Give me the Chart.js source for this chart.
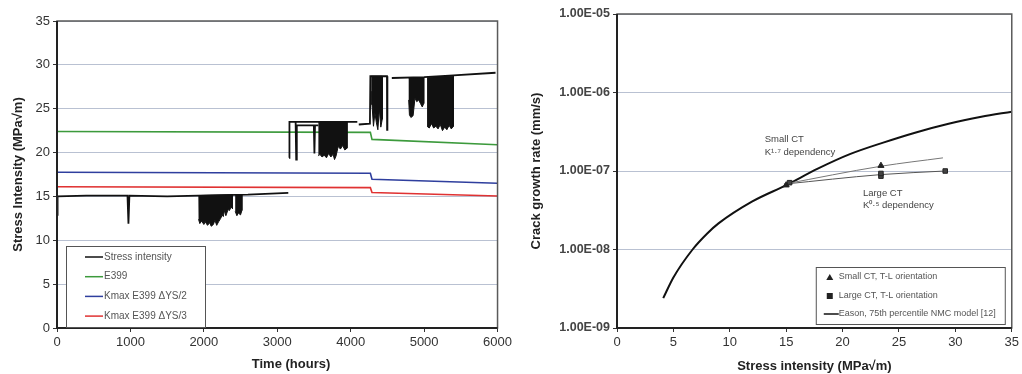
<!DOCTYPE html>
<html>
<head>
<meta charset="utf-8">
<script src="https://cdn.jsdelivr.net/npm/chart.js@4.4.1/dist/chart.umd.min.js"></script>
<style>
html, body { margin: 0; padding: 0; background: #fff; }
#wrap { position: relative; width: 1022px; height: 374px; overflow: hidden; }
#leftChart { position: absolute; left: 0; top: 0; }
#rightChart { position: absolute; left: 515px; top: 0; }
</style>
</head>
<body>
<div id="wrap">
  <canvas id="leftChart" width="515" height="374"></canvas>
  <canvas id="rightChart" width="507" height="374"></canvas>
</div>
<script>
// ---- left panel: time (hours) vs stress intensity (MPa√m) ----
// null K breaks the trace
const stressTrace = [
  [0, 12.9], [8, 15.0], [400, 15.1], [960, 15.1], [973, 11.9], [986, 15.1], [1500, 15.0],
  [1925, 15.1], [2600, 15.2], [3150, 15.4], [3152, null],
  [3160, 19.4], [3166, 23.5], [4090, 23.5], [4095, null],
  [4110, 23.2], [4262, 23.3], [4268, 28.7], [4494, 28.7], [4496, 22.6], [4500, 28.7], [4505, null],
  [4560, 28.5], [5000, 28.6], [5400, 28.8], [5973, 29.1], [5980, null],
  [3250, 23.5], [3258, 19.2], [3266, 23.1], [3498, 23.1], [3506, 19.9], [3514, 23.1], [3560, 23.1]
];
// dense unloading periods, drawn as outlines (top edge then jagged bottom)
const dipBlock1 = [[1925, 15.1], [2390, 15.2], [2390, 13.6], [2370, 13.8], [2350, 13.4], [2330, 13.5],
  [2300, 12.8], [2280, 13.4], [2265, 12.7], [2250, 12.9], [2230, 12.5], [2200, 12.1], [2175, 11.7],
  [2150, 12.3], [2130, 11.8], [2100, 11.6], [2080, 12.0], [2050, 11.7], [2020, 12.1], [2000, 11.8],
  [1970, 12.2], [1945, 11.9], [1928, 12.4]];
const dipBlock2 = [[2427, 15.2], [2518, 15.2], [2518, 13.4], [2500, 12.9], [2470, 13.1], [2450, 12.8], [2427, 13.3]];
const dipBlock3 = [[3560, 23.5], [3950, 23.5], [3950, 20.5], [3920, 20.3], [3890, 20.8], [3860, 20.4],
  [3830, 20.7], [3800, 19.6], [3780, 19.2], [3760, 19.8], [3730, 19.5], [3700, 19.9], [3670, 19.4],
  [3640, 19.7], [3610, 19.5], [3580, 19.8], [3560, 19.6]];
const dipBlock4 = [[4280, 28.7], [4430, 28.7], [4430, 23.8], [4410, 22.9], [4390, 25.0], [4370, 22.6],
  [4350, 23.4], [4330, 24.5], [4310, 23.0], [4290, 25.5], [4280, 27.0]];
const dipBlock5 = [[4790, 28.5], [4995, 28.5], [4995, 25.6], [4975, 25.2], [4950, 25.6], [4925, 26.0],
  [4900, 25.8], [4875, 26.2], [4850, 24.2], [4820, 24.0], [4800, 24.3], [4790, 26.0]];
const dipBlock6 = [[5040, 28.6], [5400, 28.7], [5400, 23.0], [5370, 22.7], [5340, 23.1], [5310, 22.6],
  [5280, 22.9], [5250, 22.5], [5220, 23.2], [5190, 22.7], [5160, 23.0], [5130, 22.8], [5100, 23.3],
  [5070, 22.8], [5040, 23.0]];
const e399Line = [[0, 22.4], [4268, 22.3], [4290, 21.5], [6000, 20.9]];
const kmaxHalfLine = [[0, 17.75], [4268, 17.65], [4290, 16.95], [6000, 16.5]];
const kmaxThirdLine = [[0, 16.1], [4268, 16.0], [4290, 15.45], [6000, 15.05]];
const leftLabels = ['Stress intensity', 'E399', 'Kmax E399 \u0394YS/2', 'Kmax E399 \u0394YS/3'];

// ---- right panel: stress intensity vs crack growth rate ----
const modelK = [4.1, 5, 6.7, 8, 9, 12, 15, 17.8, 20.7, 23.6, 26.5, 29.4, 32.3, 35];
const modelRate = [2.4e-9, 4.4e-9, 1.0e-8, 1.6e-8, 2.15e-8, 4.1e-8, 6.6e-8, 1.07e-7, 1.65e-7, 2.3e-7, 3.1e-7, 4.0e-7, 4.9e-7, 5.7e-7];
const smallCtK = [15.0, 23.4];
const smallCtRate = [6.6e-8, 1.17e-7];
const largeCtK = [15.3, 23.4, 23.4, 29.1];
const largeCtRate = [7.1e-8, 8.6e-8, 9.3e-8, 1.0e-7];
const smallFitK = [14.8, 23.4, 28.9];
const smallFitRate = [6.8e-8, 1.15e-7, 1.47e-7];
const largeFitK = [14.8, 23.4, 29.1];
const largeFitRate = [6.8e-8, 9.0e-8, 1.0e-7];
const rateTicks = [1e-9, 1e-8, 1e-7, 1e-6, 1e-5];
const rightLabels = ['Small CT, T-L orientation', 'Large CT, T-L orientation', 'Eason, 75th percentile NMC model [12]'];

const FONT = 'Liberation Sans, Arial, sans-serif';
const toXY = arr => arr.map(([x, y]) => ({ x, y }));
const zipXY = (xs, ys) => xs.map((x, i) => ({ x, y: ys[i] }));

function sciLabel(v) {
  const e = Math.round(Math.log10(v));
  const m = v / Math.pow(10, e);
  return m.toFixed(2) + 'E' + (e < 0 ? '-' : '+') + String(Math.abs(e)).padStart(2, '0');
}

// plot frame: grey box, darker left/bottom axes
const framePlugin = {
  id: 'frame',
  afterDatasetsDraw(chart) {
    const { ctx, chartArea: a } = chart;
    ctx.save();
    ctx.strokeStyle = '#5a5a5a';
    ctx.lineWidth = 1.5;
    ctx.strokeRect(a.left, a.top, a.right - a.left, a.bottom - a.top);
    ctx.strokeStyle = '#222';
    ctx.lineWidth = 2;
    ctx.beginPath();
    ctx.moveTo(a.left, a.top);
    ctx.lineTo(a.left, a.bottom);
    ctx.lineTo(a.right, a.bottom);
    ctx.stroke();
    ctx.restore();
  }
};

const leftLegend = {
  id: 'leftLegend',
  afterDraw(chart) {
    const { ctx, chartArea: a } = chart;
    const x = a.left + 9, y = a.bottom - 82, w = 139, h = 81;
    const colors = ['#111', '#3c9a3c', '#2f3f9e', '#e03232'];
    ctx.save();
    // x axis title sits a little right of the plot centre in the original
    ctx.fillStyle = '#222';
    ctx.font = 'bold 13px ' + FONT;
    ctx.textAlign = 'center';
    ctx.textBaseline = 'middle';
    ctx.fillText('Time (hours)', 291, 364);
    ctx.textAlign = 'left';

    ctx.fillStyle = '#fff';
    ctx.fillRect(x, y, w, h);
    ctx.strokeStyle = '#555';
    ctx.lineWidth = 1;
    ctx.strokeRect(x + 0.5, y + 0.5, w, h);
    ctx.font = '10px ' + FONT;
    leftLabels.forEach((label, i) => {
      const yy = y + 11 + i * 19.7;
      ctx.strokeStyle = colors[i];
      ctx.lineWidth = 1.5;
      ctx.beginPath();
      ctx.moveTo(x + 19, yy);
      ctx.lineTo(x + 37, yy);
      ctx.stroke();
      ctx.fillStyle = '#555';
      ctx.fillText(label, x + 38, yy);
    });
    ctx.restore();
  }
};

const rightExtras = {
  id: 'rightExtras',
  afterDraw(chart) {
    const { ctx, chartArea: a, scales } = chart;
    const xs = scales.x, ys = scales.y;
    ctx.save();
    // annotations
    ctx.fillStyle = '#444';
    ctx.font = '9.5px ' + FONT;
    ctx.textBaseline = 'middle';
    ctx.fillText('Small CT', xs.getPixelForValue(13.1), ys.getPixelForValue(2.55e-7));
    ctx.fillText('K\u00b9\u00b7\u2077 dependency', xs.getPixelForValue(13.1), ys.getPixelForValue(1.75e-7));
    ctx.fillText('Large CT', xs.getPixelForValue(21.8), ys.getPixelForValue(5.2e-8));
    ctx.fillText('K\u2070\u00b7\u2075 dependency', xs.getPixelForValue(21.8), ys.getPixelForValue(3.7e-8));
    // legend box
    const x = a.right - 196, y = a.bottom - 61, w = 189, h = 57;
    ctx.fillStyle = '#fff';
    ctx.fillRect(x, y, w, h);
    ctx.strokeStyle = '#555';
    ctx.lineWidth = 1;
    ctx.strokeRect(x + 0.5, y + 0.5, w, h);
    ctx.font = '9px ' + FONT;
    const rows = [y + 10, y + 29, y + 47];
    ctx.fillStyle = '#222';
    ctx.beginPath();
    ctx.moveTo(x + 14, rows[0] - 3);
    ctx.lineTo(x + 17.5, rows[0] + 3);
    ctx.lineTo(x + 10.5, rows[0] + 3);
    ctx.closePath();
    ctx.fill();
    ctx.fillRect(x + 11, rows[1] - 3, 6, 6);
    ctx.strokeStyle = '#111';
    ctx.lineWidth = 1.5;
    ctx.beginPath();
    ctx.moveTo(x + 8, rows[2]);
    ctx.lineTo(x + 23, rows[2]);
    ctx.stroke();
    ctx.fillStyle = '#555';
    rightLabels.forEach((label, i) => ctx.fillText(label, x + 23, rows[i]));
    ctx.restore();
  }
};

const gridColor = '#b9c1d2';
const tickFont = { family: FONT, size: 13 };
const titleFont = { family: FONT, size: 13, weight: 'bold' };

const blockSet = block => ({
  data: toXY(block), borderColor: '#111', backgroundColor: '#111', borderWidth: 1,
  fill: 'shape', pointRadius: 0, tension: 0
});
const lineSet = (label, arr, color, width) => ({
  label, data: toXY(arr), borderColor: color, backgroundColor: color, borderWidth: width,
  pointRadius: 0, tension: 0, fill: false
});

new Chart(document.getElementById('leftChart'), {
  type: 'line',
  data: {
    datasets: [
      lineSet(leftLabels[0], stressTrace, '#111', 1.8),
      blockSet(dipBlock1), blockSet(dipBlock2), blockSet(dipBlock3),
      blockSet(dipBlock4), blockSet(dipBlock5), blockSet(dipBlock6),
      lineSet(leftLabels[1], e399Line, '#3c9a3c', 1.6),
      lineSet(leftLabels[2], kmaxHalfLine, '#2f3f9e', 1.6),
      lineSet(leftLabels[3], kmaxThirdLine, '#e03232', 1.6)
    ]
  },
  options: {
    responsive: false,
    animation: false,
    layout: { padding: { top: 21, right: 15, left: 0, bottom: 0 } },
    plugins: { legend: { display: false }, tooltip: { enabled: false } },
    scales: {
      x: {
        type: 'linear', min: 0, max: 6000,
        ticks: { stepSize: 1000, color: '#333', font: tickFont, maxRotation: 0, padding: 3, callback: v => String(v) },
        grid: { drawOnChartArea: false, tickLength: 4, color: '#333' },
        border: { display: false },
        afterFit: s => { s.height = 46; }
      },
      y: {
        min: 0, max: 35,
        ticks: { stepSize: 5, color: '#333', font: tickFont, padding: 3 },
        grid: { color: gridColor, lineWidth: 1, tickLength: 4, tickColor: '#333' },
        border: { display: false },
        title: { display: true, text: 'Stress Intensity (MPa\u221am)', color: '#222', font: titleFont, padding: { top: 11, bottom: 0 } },
        afterFit: s => { s.width = 57; }
      }
    }
  },
  plugins: [framePlugin, leftLegend]
});

new Chart(document.getElementById('rightChart'), {
  type: 'line',
  data: {
    datasets: [
      { label: rightLabels[0], data: zipXY(smallCtK, smallCtRate), showLine: false,
        pointStyle: 'triangle', pointRadius: 3.5, backgroundColor: '#222', borderColor: '#222' },
      { label: rightLabels[1], data: zipXY(largeCtK, largeCtRate), showLine: false,
        pointStyle: 'rect', pointRadius: 3.2, backgroundColor: '#444', borderColor: '#222' },
      { label: 'small fit', data: zipXY(smallFitK, smallFitRate), borderColor: '#777', borderWidth: 1,
        pointRadius: 0, cubicInterpolationMode: 'monotone' },
      { label: 'large fit', data: zipXY(largeFitK, largeFitRate), borderColor: '#555', borderWidth: 1,
        pointRadius: 0, cubicInterpolationMode: 'monotone' },
      { label: rightLabels[2], data: zipXY(modelK, modelRate), borderColor: '#111', borderWidth: 2,
        pointRadius: 0, cubicInterpolationMode: 'monotone' }
    ]
  },
  options: {
    responsive: false,
    animation: false,
    layout: { padding: { top: 14, right: 5, left: 0, bottom: 0 } },
    plugins: { legend: { display: false }, tooltip: { enabled: false } },
    scales: {
      x: {
        type: 'linear', min: 0, max: 35,
        ticks: { stepSize: 5, color: '#333', font: tickFont, maxRotation: 0, padding: 3 },
        grid: { drawOnChartArea: false, tickLength: 4, color: '#333' },
        border: { display: false },
        title: { display: true, text: 'Stress intensity (MPa\u221am)', color: '#222', font: titleFont, padding: { top: 0, bottom: 0 } },
        afterFit: s => { s.height = 46; }
      },
      y: {
        type: 'logarithmic', min: 1e-9, max: 1e-5,
        afterBuildTicks: s => { s.ticks = rateTicks.map(v => ({ value: v })); },
        ticks: { color: '#444', font: { family: FONT, size: 12.5, weight: 'bold' }, padding: 3, callback: v => sciLabel(v) },
        grid: { color: gridColor, lineWidth: 1, tickLength: 4, tickColor: '#333' },
        border: { display: false },
        title: { display: true, text: 'Crack growth rate (mm/s)', color: '#222', font: titleFont, padding: { top: 14, bottom: 0 } },
        afterFit: s => { s.width = 102; }
      }
    }
  },
  plugins: [framePlugin, rightExtras]
});
</script>
</body>
</html>
